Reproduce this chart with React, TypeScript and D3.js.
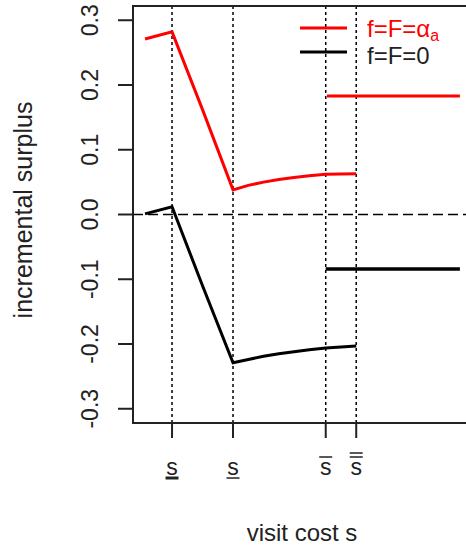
import React from "react";
import * as d3 from "d3";

// x positions are in arbitrary "visit cost" units (threshold ticks)
const sTicks = [1, 2, 3.52, 4.02];
const sMarks = ["uu", "u", "o", "oo"]; // underline / overline decorations of s
const yTicks = [-0.3, -0.2, -0.1, 0.0, 0.1, 0.2, 0.3];
const yTickLabels = ["-0.3", "-0.2", "-0.1", "0.0", "0.1", "0.2", "0.3"];

// red: f=F=alpha_a
const redX = [0.557, 1.0, 1.5, 2.0, 2.25, 2.5, 2.75, 3.0, 3.25, 3.52, 4.02];
const redY = [0.271, 0.282, 0.162, 0.038, 0.045, 0.05, 0.054, 0.057, 0.06, 0.062, 0.063];
const redFlatX = [3.54, 5.72];
const redFlatY = 0.183;

// black: f=F=0
const blackX = [0.557, 1.0, 1.5, 2.0, 2.25, 2.5, 2.75, 3.0, 3.25, 3.52, 4.02];
const blackY = [0.001, 0.012, -0.11, -0.229, -0.224, -0.219, -0.215, -0.212, -0.209, -0.206, -0.203];
const blackFlatX = [3.52, 5.72];
const blackFlatY = -0.084;

const FONT = "'Liberation Sans', Arial, sans-serif";

export default function App() {
  const W = 466, H = 548;
  const left = 133, top = 6, bottom = 423, right = 470;

  const x = d3.scaleLinear().domain([0.36, 5.82]).range([133, 466]);
  const y = d3.scaleLinear().domain([-0.322, 0.322]).range([bottom, top]);

  const line = d3.line<[number, number]>()
    .x((d) => x(d[0]))
    .y((d) => y(d[1]));

  const red = redX.map((v, i) => [v, redY[i]] as [number, number]);
  const black = blackX.map((v, i) => [v, blackY[i]] as [number, number]);

  return (
    <div style={{ position: "absolute", left: 0, top: 0 }}>
      <svg width={W} height={H} style={{ display: "block", background: "#fff" }} fontFamily={FONT}>
        {/* dotted verticals at thresholds */}
        {sTicks.map((t, i) => (
          <line key={"v" + i} x1={x(t)} x2={x(t)} y1={top} y2={bottom}
            stroke="#000" strokeWidth={1.5} strokeDasharray="3,3" />
        ))}
        {/* zero line */}
        <line x1={left} x2={right} y1={y(0)} y2={y(0)} stroke="#000" strokeWidth={1.5} strokeDasharray="10,5" />

        {/* curves */}
        <path d={line(red) || ""} fill="none" stroke="#ff0000" strokeWidth={3} />
        <path d={line(black) || ""} fill="none" stroke="#000" strokeWidth={3} />
        <line x1={x(redFlatX[0])} x2={x(redFlatX[1])} y1={y(redFlatY)} y2={y(redFlatY)} stroke="#ff0000" strokeWidth={3} />
        <line x1={x(blackFlatX[0])} x2={x(blackFlatX[1])} y1={y(blackFlatY)} y2={y(blackFlatY)} stroke="#000" strokeWidth={3.5} />

        {/* box */}
        <path d={`M${right},${top}H${left}V${bottom}H${right}`} fill="none" stroke="#222" strokeWidth={2} />

        {/* y axis */}
        {yTicks.map((t, i) => (
          <g key={"y" + i}>
            <line x1={left - 15} x2={left} y1={y(t)} y2={y(t)} stroke="#222" strokeWidth={2} />
            <text transform={`translate(98,${y(t)}) rotate(-90)`} textAnchor="middle" fontSize={23} fill="#222">
              {yTickLabels[i]}
            </text>
          </g>
        ))}

        {/* x axis */}
        {sTicks.map((t, i) => {
          const cx = x(t);
          const m = sMarks[i];
          return (
            <g key={"x" + i}>
              <line x1={cx} x2={cx} y1={bottom} y2={bottom + 15} stroke="#222" strokeWidth={2} />
              <text x={cx} y={475} textAnchor="middle" fontSize={23} fill="#222">s</text>
              {m === "u" && <line x1={cx - 6.5} x2={cx + 6.5} y1={478} y2={478} stroke="#222" strokeWidth={1.5} />}
              {m === "uu" && <line x1={cx - 6.5} x2={cx + 6.5} y1={478} y2={478} stroke="#222" strokeWidth={3} />}
              {m === "o" && <line x1={cx - 6.5} x2={cx + 6.5} y1={457} y2={457} stroke="#222" strokeWidth={1.5} />}
              {m === "oo" && (
                <>
                  <line x1={cx - 6.5} x2={cx + 6.5} y1={453} y2={453} stroke="#222" strokeWidth={1.5} />
                  <line x1={cx - 6.5} x2={cx + 6.5} y1={457} y2={457} stroke="#222" strokeWidth={1.5} />
                </>
              )}
            </g>
          );
        })}

        {/* axis titles */}
        <text x={302} y={541} textAnchor="middle" fontSize={24} fill="#222">visit cost s</text>
        <text transform="translate(32,210) rotate(-90)" textAnchor="middle" fontSize={25} fill="#222">incremental surplus</text>

        {/* legend */}
        <line x1={300} x2={347} y1={28} y2={28} stroke="#ff0000" strokeWidth={3} />
        <line x1={300} x2={347} y1={52} y2={52} stroke="#000" strokeWidth={3} />
        <text x={367} y={37} fontSize={24} fill="#ff0000">
          f=F=α<tspan fontSize={16} dy={4}>a</tspan>
        </text>
        <text x={367} y={64} fontSize={24} fill="#222">f=F=0</text>
      </svg>
    </div>
  );
}
